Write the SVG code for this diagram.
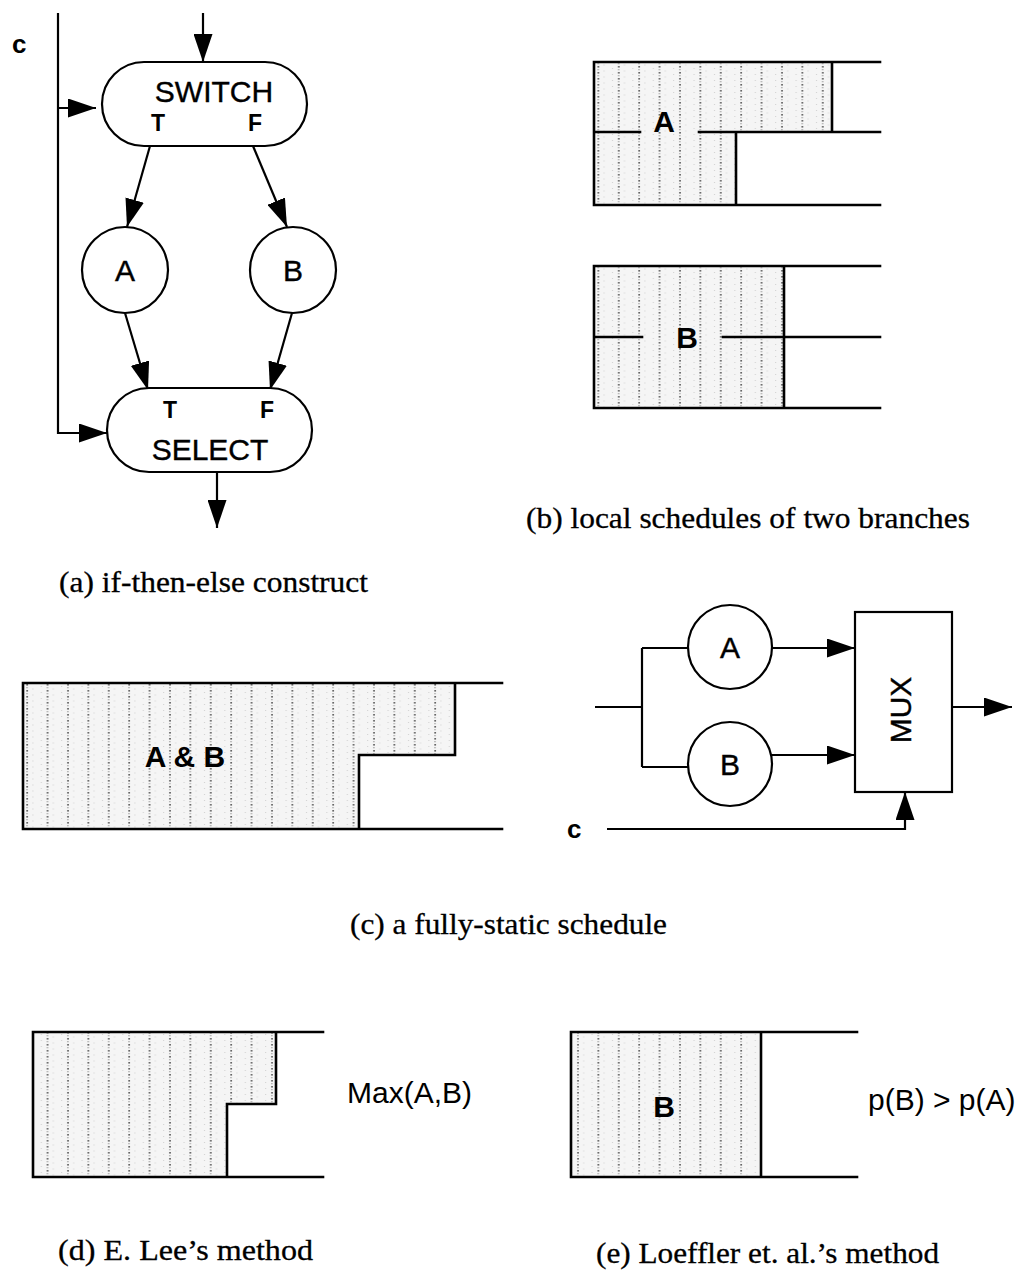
<svg xmlns="http://www.w3.org/2000/svg" width="1027" height="1274" viewBox="0 0 1027 1274">
<defs>
<style>
.ln{stroke:#000;stroke-width:2.2;fill:none}
.sl{stroke:#000;stroke-width:2.6;fill:none;stroke-linecap:square}
.nd{stroke:#000;stroke-width:2.2;fill:#fff}
.sh{fill:url(#stip);stroke:none}
.sans{font-family:"Liberation Sans",Arial,Helvetica,sans-serif;fill:#000}
.lbl{font-size:30px;text-anchor:middle;stroke:#000;stroke-width:0.4}
.tf{font-size:23px;font-weight:bold;text-anchor:middle}
.sb{font-size:30px;font-weight:bold;text-anchor:middle}
.cap{font-family:"Liberation Serif","Times New Roman",serif;font-size:30px;fill:#000;stroke:#000;stroke-width:0.3}
.arr{marker-end:url(#ah)}
</style>
<marker id="ah" markerUnits="userSpaceOnUse" markerWidth="28" markerHeight="19" refX="28" refY="9.5" orient="auto" viewBox="0 0 28 19">
<path d="M0,0 L28,9.5 L0,19 z" fill="#000"/>
</marker>
<pattern id="stip" patternUnits="userSpaceOnUse" x="-3" y="0" width="20.4" height="6">
<rect width="20.4" height="6" fill="#f5f5f5"/>
<rect x="9" y="0" width="1.6" height="1.6" fill="#555"/>
<rect x="9" y="3" width="1.3" height="1.3" fill="#a0a0a0"/>
<rect x="3" y="2" width="1" height="1" fill="#cfcfcf"/>
<rect x="15" y="4.5" width="1" height="1" fill="#cfcfcf"/>
</pattern>
</defs>
<rect width="1027" height="1274" fill="#fff"/>

<!-- connectors -->
<g id="connectors">
<path class="ln arr" d="M203,13 V62"/>
<path class="ln arr" d="M58,13 V433 H107"/>
<path class="ln arr" d="M58,108 H96"/>
<path class="ln arr" d="M150,146 L127,227"/>
<path class="ln arr" d="M253,146 L287,227"/>
<path class="ln arr" d="M125,313 L148,390"/>
<path class="ln arr" d="M292,313 L270,390"/>
<path class="ln arr" d="M217,472 V528"/>
<path class="ln" d="M595,707 H642 M642,648 V767 M642,648 H688 M642,767 H688"/>
<path class="ln arr" d="M772,648 H855"/>
<path class="ln arr" d="M771,755 H855"/>
<path class="ln arr" d="M952,707 H1012"/>
<path class="ln arr" d="M607,829 H905 V792"/>
</g>

<!-- (a) if-then-else -->
<text class="sans" x="12" y="53" font-size="26" font-weight="bold">c</text>
<g id="switch">
<rect class="nd" x="102" y="62" width="205" height="84" rx="42" ry="42"/>
<text class="sans lbl" x="214" y="102">SWITCH</text>
<text class="sans tf" x="158" y="131">T</text>
<text class="sans tf" x="255" y="131">F</text>
</g>
<g id="nodeA">
<circle class="nd" cx="125" cy="270" r="43"/>
<text class="sans lbl" x="125" y="281">A</text>
</g>
<g id="nodeB">
<circle class="nd" cx="293" cy="270" r="43"/>
<text class="sans lbl" x="293" y="281">B</text>
</g>
<g id="select">
<rect class="nd" x="107" y="388" width="205" height="84" rx="42" ry="42"/>
<text class="sans tf" x="170" y="418">T</text>
<text class="sans tf" x="267" y="418">F</text>
<text class="sans lbl" x="210" y="460">SELECT</text>
</g>
<text class="cap" x="59" y="592" textLength="309" lengthAdjust="spacingAndGlyphs">(a) if-then-else construct</text>

<!-- (b) local schedules -->
<g id="scheduleA">
<path class="sh" d="M594,62 H832 V132 H736 V205 H594 Z"/>
<path class="sl" d="M594,62 H880 M594,62 V205 H880 M832,62 V132 M594,132 H640 M699,132 H880 M736,132 V205"/>
<text class="sans sb" x="664" y="132">A</text>
</g>
<g id="scheduleB">
<path class="sh" d="M594,266 H784 V408 H594 Z"/>
<path class="sl" d="M594,266 H880 M594,266 V408 H880 M784,266 V408 M594,337 H642 M723,337 H880"/>
<text class="sans sb" x="687" y="348">B</text>
</g>
<text class="cap" x="526" y="528" textLength="444" lengthAdjust="spacingAndGlyphs">(b) local schedules of two branches</text>

<!-- (c) fully static -->
<g id="scheduleAB">
<path class="sh" d="M23,683 H455 V755 H359 V829 H23 Z"/>
<path class="sl" d="M23,683 H502 M23,683 V829 H502 M455,683 V755 H359 V829"/>
<text class="sans sb" x="185" y="767">A &amp; B</text>
</g>
<g id="muxA">
<circle class="nd" cx="730" cy="647" r="42"/>
<text class="sans lbl" x="730" y="658">A</text>
</g>
<g id="muxB">
<circle class="nd" cx="730" cy="764" r="42"/>
<text class="sans lbl" x="730" y="775">B</text>
</g>
<g id="mux">
<rect class="nd" x="855" y="612" width="97" height="180"/>
<text class="sans lbl" transform="translate(911,710) rotate(-90)" x="0" y="0">MUX</text>
</g>
<text class="sans" x="567" y="838" font-size="26" font-weight="bold">c</text>
<text class="cap" x="350" y="934" textLength="317" lengthAdjust="spacingAndGlyphs">(c) a fully-static schedule</text>

<!-- (d) E. Lee -->
<g id="scheduleMax">
<path class="sh" d="M33,1032 H276 V1104 H227 V1177 H33 Z"/>
<path class="sl" d="M33,1032 H323 M33,1032 V1177 H323 M276,1032 V1104 H227 V1177"/>
</g>
<text class="sans" x="347" y="1103" font-size="30">Max(A,B)</text>
<text class="cap" x="58" y="1260" textLength="255" lengthAdjust="spacingAndGlyphs">(d) E. Lee’s method</text>

<!-- (e) Loeffler -->
<g id="scheduleP">
<path class="sh" d="M571,1032 H761 V1177 H571 Z"/>
<path class="sl" d="M571,1032 H857 M571,1032 V1177 H857 M761,1032 V1177"/>
<text class="sans sb" x="664" y="1117">B</text>
</g>
<text class="sans" x="868" y="1110" font-size="30">p(B) &gt; p(A)</text>
<text class="cap" x="596" y="1263" textLength="343" lengthAdjust="spacingAndGlyphs">(e) Loeffler et. al.’s method</text>
</svg>
